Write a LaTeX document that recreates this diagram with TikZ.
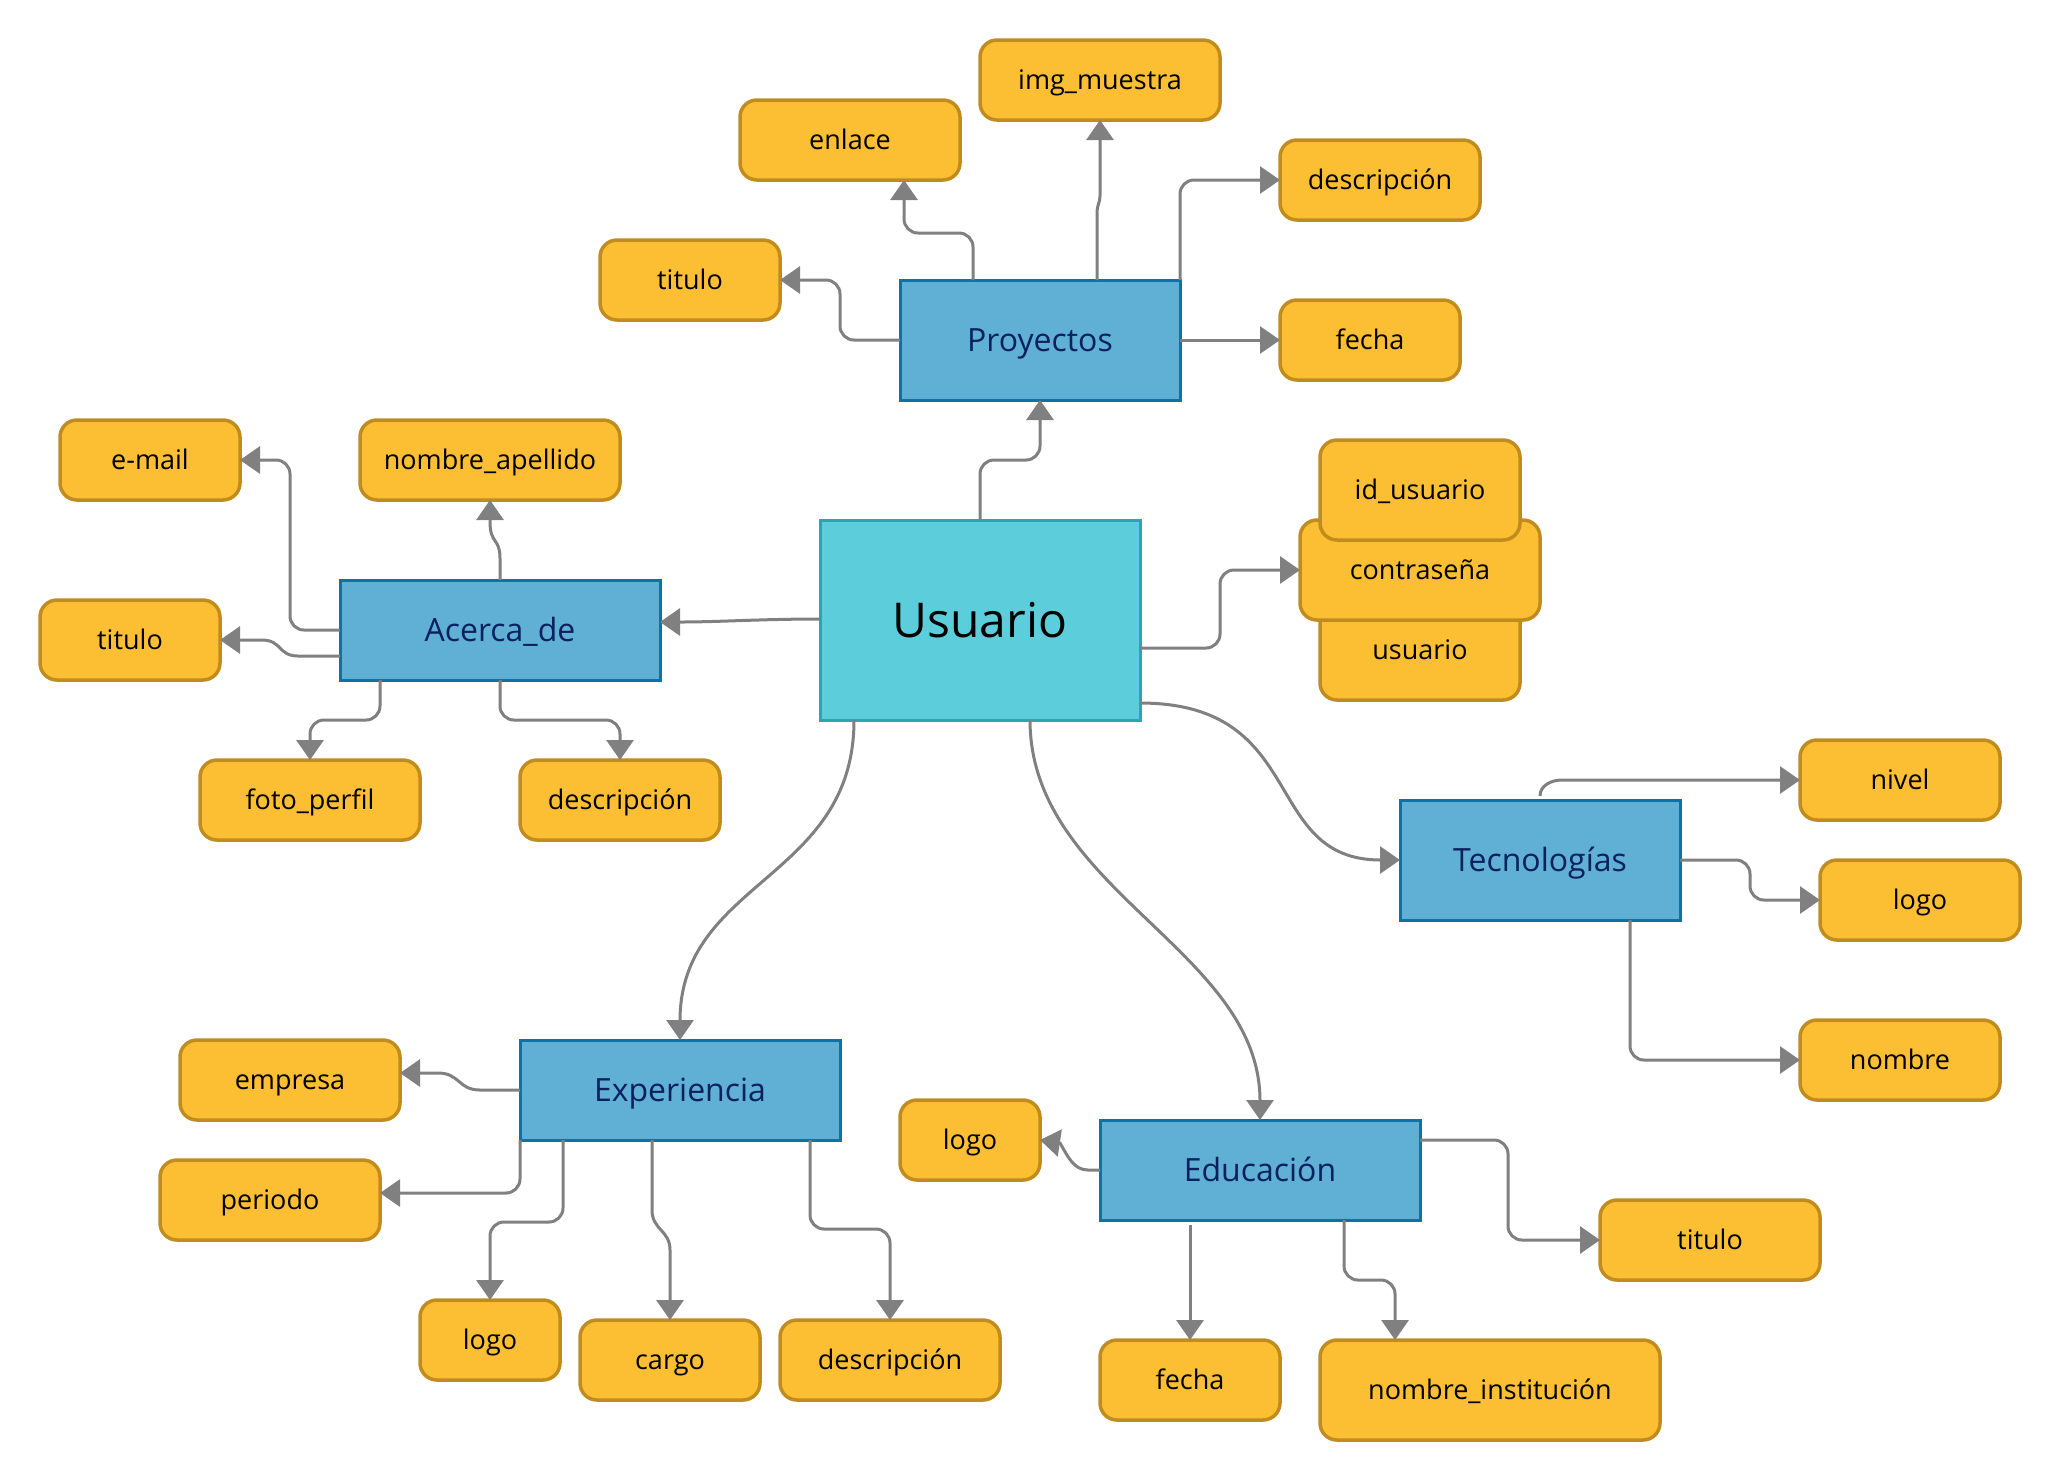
\documentclass[tikz,border=0pt]{standalone}
\usepackage{fontspec}
\setmainfont{Open Sans}
\usetikzlibrary{arrows.meta,calc}

\definecolor{leaffill}{RGB}{252,190,50}
\definecolor{leafline}{RGB}{192,140,30}
\definecolor{entfill}{RGB}{96,176,213}
\definecolor{entline}{RGB}{14,114,166}
\definecolor{enttext}{RGB}{10,32,96}
\definecolor{rootfill}{RGB}{92,205,218}
\definecolor{rootline}{RGB}{46,164,176}
\definecolor{wire}{RGB}{128,128,128}

\begin{document}
\begin{tikzpicture}[
  x=0.5pt, y=-0.5pt,
  every node/.style={inner sep=0pt, outer sep=0pt, align=center},
  leaf/.style={rectangle, rounded corners=8.5pt, draw=leafline, fill=leaffill,
    line width=1.75pt, font=\fontsize{13.5}{16}\selectfont, text=black,
    text height=9.6pt, text depth=0pt},
  entity/.style={rectangle, draw=entline, fill=entfill, line width=1.5pt,
    font=\fontsize{16}{19}\selectfont, text=enttext,
    text height=11.4pt, text depth=0pt},
  root/.style={rectangle, draw=rootline, fill=rootfill, line width=1.5pt,
    font=\fontsize{24}{28}\selectfont, text=black,
    text height=17.1pt, text depth=0pt},
  conn/.style={draw=wire, line width=1.5pt, rounded corners=7pt,
    -{Triangle[length=10pt,width=13.5pt]}},
  curvy/.style={conn, rounded corners=0pt},
]
\useasboundingbox[fill=white] (0,0) rectangle (2060,1480);

% central entity
\node[root, minimum width=160pt, minimum height=100pt] (U) at (980,620) {Usuario};

% related entities
\node[entity, minimum width=140pt, minimum height=60pt] (P) at (1040,340) {Proyectos};
\node[entity, minimum width=160pt, minimum height=50pt] (A) at (500,630) {Acerca\_de};
\node[entity, minimum width=140pt, minimum height=60pt] (T) at (1540,860) {Tecnologías};
\node[entity, minimum width=160pt, minimum height=50pt] (E) at (680,1090) {Experiencia};
\node[entity, minimum width=160pt, minimum height=50pt] (Ed) at (1260,1170) {Educación};

% attributes of Proyectos
\node[leaf, minimum width=110pt, minimum height=40pt] (enlace) at (850,140) {enlace};
\node[leaf, minimum width=120pt, minimum height=40pt] (img) at (1100,80) {img\_muestra};
\node[leaf, minimum width=100pt, minimum height=40pt] (descP) at (1380,180) {descripción};
\node[leaf, minimum width=90pt, minimum height=40pt] (tituloP) at (690,280) {titulo};
\node[leaf, minimum width=90pt, minimum height=40pt] (fechaP) at (1370,340) {fecha};

% attributes of Usuario (stacked)
\node[leaf, minimum width=100pt, minimum height=50pt] (usr) at (1420,650) {usuario};
\node[leaf, minimum width=120pt, minimum height=50pt] (pass) at (1420,570) {contraseña};
\node[leaf, minimum width=100pt, minimum height=50pt] (idu) at (1420,490) {id\_usuario};

% attributes of Acerca_de
\node[leaf, minimum width=90pt, minimum height=40pt] (email) at (150,460) {e-mail};
\node[leaf, minimum width=130pt, minimum height=40pt] (nA) at (490,460) {nombre\_apellido};
\node[leaf, minimum width=90pt, minimum height=40pt] (tituloA) at (130,640) {titulo};
\node[leaf, minimum width=110pt, minimum height=40pt] (foto) at (310,800) {foto\_perfil};
\node[leaf, minimum width=100pt, minimum height=40pt] (descA) at (620,800) {descripción};

% attributes of Tecnologías
\node[leaf, minimum width=100pt, minimum height=40pt] (nivel) at (1900,780) {nivel};
\node[leaf, minimum width=100pt, minimum height=40pt] (logoT) at (1920,900) {logo};
\node[leaf, minimum width=100pt, minimum height=40pt] (nombreT) at (1900,1060) {nombre};

% attributes of Experiencia
\node[leaf, minimum width=110pt, minimum height=40pt] (empresa) at (290,1080) {empresa};
\node[leaf, minimum width=110pt, minimum height=40pt] (periodo) at (270,1200) {periodo};
\node[leaf, minimum width=70pt, minimum height=40pt] (logoE) at (490,1340) {logo};
\node[leaf, minimum width=90pt, minimum height=40pt] (cargo) at (670,1360) {cargo};
\node[leaf, minimum width=110pt, minimum height=40pt] (descE) at (890,1360) {descripción};

% attributes of Educación
\node[leaf, minimum width=70pt, minimum height=40pt] (logoEd) at (970,1140) {logo};
\node[leaf, minimum width=110pt, minimum height=40pt] (tituloEd) at (1710,1240) {titulo};
\node[leaf, minimum width=90pt, minimum height=40pt] (fechaEd) at (1190,1380) {fecha};
\node[leaf, minimum width=170pt, minimum height=50pt] (nI) at (1490,1390) {nombre\_institución};

% Usuario links
\draw[conn] (U.north) -- ++(0,-60) -| (P.south);
\draw[curvy] ($(U.west)+(0,-1)$) .. controls +(-60,0) and +(60,0) .. ($(A.east)+(0,-8)$);
\draw[conn] ($(U.east)+(0,28)$) -- ++(80,0) |- (pass.west);
\draw[curvy] ($(U.east)+(0,83)$) .. controls +(170,0) and +(-140,0) .. (T.west);
\draw[curvy] ($(U.south west)+(34,0)$) .. controls +(0,160) and +(0,-160) .. (E.north);
\draw[curvy] ($(U.south west)+(210,0)$) .. controls +(0,170) and +(0,-170) .. (Ed.north);

% Proyectos links
\draw[conn] ($(P.north west)+(73,0)$) -- ++(0,-47) -| ($(enlace.south)+(54,0)$);
\draw[curvy] ($(P.north)+(57,0)$) -- ++(0,-68) to[out=90,in=270] ++(3,-16) -- (img.south);
\draw[conn] (P.north east) |- (descP.west);
\draw[conn] (P.west) -- ++(-60,0) |- (tituloP.east);
\draw[conn] (P.east) -- (fechaP.west);

% Acerca_de links
\draw[conn] (A.west) -- ++(-50,0) |- (email.east);
\draw[curvy] ($(A.west)+(0,26)$) -- ++(-42,0) .. controls +(-20,0) and +(20,0) .. ($(tituloA.east)+(42,0)$) -- (tituloA.east);
\draw[curvy] (A.north) -- ++(0,-22) .. controls +(0,-20) and +(0,22) .. ($(nA.south)+(0,22)$) -- (nA.south);
\draw[conn] ($(A.south west)+(40,0)$) -- ++(0,40) -| (foto.north);
\draw[conn] (A.south) -- ++(0,40) -| (descA.north);

% Tecnologías links
\draw[curvy] ($(T.north)+(0,-4)$) to[out=90,in=180] ($(T.north)+(22,-20)$) -- (nivel.west);
\draw[conn] (T.east) -- ++(70,0) |- (logoT.west);
\draw[conn] ($(T.south east)+(-50,0)$) |- (nombreT.west);

% Experiencia links
\draw[curvy] (E.west) -- ++(-40,0) .. controls +(-22,0) and +(22,0) .. ($(empresa.east)+(38,-7)$) -- ($(empresa.east)+(0,-7)$);
\draw[conn] (E.south west) |- ($(periodo.east)+(0,-7)$);
\draw[conn] ($(E.south west)+(43,0)$) -- ++(0,82) -| (logoE.north);
\draw[curvy] ($(E.south west)+(132,0)$) -- ++(0,70) .. controls +(0,20) and +(0,-20) .. ($(cargo.north)+(0,-70)$) -- (cargo.north);
\draw[conn] ($(E.south west)+(290,0)$) -- ++(0,89) -| (descE.north);

% Educación links
\draw[curvy] (Ed.west) -- ++(-12,0) .. controls +(-14,0) and +(8,14) .. ($(logoEd.east)+(20,3)$) -- (logoEd.east);
\draw[conn] ($(Ed.north east)+(0,20)$) -- ++(88,0) |- (tituloEd.west);
\draw[conn] ($(Ed.south west)+(90,5)$) -- (fechaEd.north);
\draw[conn] ($(Ed.south west)+(244,0)$) -- ++(0,60) -| ($(nI.north)+(-95,0)$);
\end{tikzpicture}
\end{document}
